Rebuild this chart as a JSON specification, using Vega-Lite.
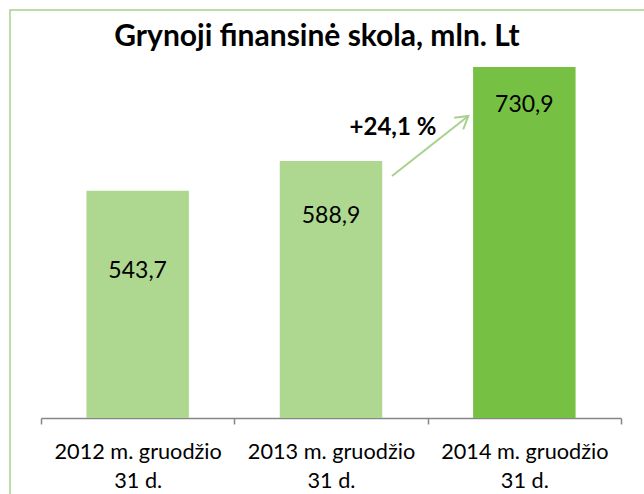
{
  "$schema": "https://vega.github.io/schema/vega-lite/v6.json",
  "width": 636,
  "height": 486,
  "autosize": {"type": "none"},
  "padding": {"left": 10, "top": 10, "right": 0, "bottom": 0},
  "background": "white",
  "title": {
    "text": "Grynoji finansinė skola, mln. Lt",
    "font": "Lato",
    "fontSize": 30,
    "fontWeight": "bold",
    "color": "black",
    "anchor": "middle",
    "frame": "group",
    "offset": -41,
    "baseline": "alphabetic",
    "dx": -11,
    "dy": 25
  },
  "config": {
    "view": {"stroke": "#a9d18e", "strokeWidth": 1.5},
    "font": "Lato",
    "locale": {"number": {"decimal": ",", "thousands": " ", "grouping": [3], "currency": ["", ""]}}
  },
  "data": {
    "values": [
      {"period": "2012 m. gruodžio 31 d.", "value": 543.7},
      {"period": "2013 m. gruodžio 31 d.", "value": 588.9},
      {"period": "2014 m. gruodžio 31 d.", "value": 730.9}
    ]
  },
  "layer": [
    {
      "mark": {"type": "bar", "width": {"band": 0.53}},
      "encoding": {
        "x": {
          "field": "period",
          "type": "nominal",
          "sort": null,
          "scale": {"range": [31, 611], "paddingInner": 0, "paddingOuter": 0},
          "axis": {
            "title": null,
            "labelAngle": 0,
            "tickBand": "extent",
            "domainColor": "#868686",
            "domainWidth": 1.5,
            "tickColor": "#868686",
            "tickWidth": 1.5,
            "tickSize": 6,
            "labelFont": "Lato",
            "labelFontSize": 21.7,
            "labelColor": "black",
            "labelLineHeight": 29,
            "labelPadding": 17,
            "labelLimit": 400,
            "labelBaseline": "top",
            "labelExpr": "datum.label ? [substring(datum.label, 0, indexof(datum.label, ' 31')), '31 d.'] : ''",
            "offset": -78
          }
        },
        "y": {
          "field": "value",
          "type": "quantitative",
          "scale": {"domain": [200, 817.2], "range": [408, 0], "zero": false, "nice": false},
          "axis": null
        },
        "y2": {"datum": 200},
        "color": {
          "field": "period",
          "type": "nominal",
          "scale": {"range": ["#aed890", "#aed890", "#76c043"]},
          "legend": null
        }
      }
    },
    {
      "transform": [{"filter": "datum.value < 550"}],
      "mark": {"type": "text", "fontSize": 23, "color": "black", "baseline": "middle", "dy": 80},
      "encoding": {
        "x": {"field": "period", "type": "nominal"},
        "y": {"field": "value", "type": "quantitative"},
        "text": {"field": "value", "type": "quantitative", "format": ".1f"}
      }
    },
    {
      "transform": [{"filter": "datum.value > 550 && datum.value < 600"}],
      "mark": {"type": "text", "fontSize": 23, "color": "black", "baseline": "middle", "dy": 55},
      "encoding": {
        "x": {"field": "period", "type": "nominal"},
        "y": {"field": "value", "type": "quantitative"},
        "text": {"field": "value", "type": "quantitative", "format": ".1f"}
      }
    },
    {
      "transform": [{"filter": "datum.value > 600"}],
      "mark": {"type": "text", "fontSize": 23, "color": "black", "baseline": "middle", "dy": 38},
      "encoding": {
        "x": {"field": "period", "type": "nominal"},
        "y": {"field": "value", "type": "quantitative"},
        "text": {"field": "value", "type": "quantitative", "format": ".1f"}
      }
    },
    {
      "data": {"values": [{"note": "+24,1 %"}]},
      "mark": {"type": "text", "fontSize": 24, "fontWeight": "bold", "color": "black", "baseline": "middle", "dx": 62},
      "encoding": {
        "x": {"datum": "2013 m. gruodžio 31 d.", "type": "nominal"},
        "y": {"datum": 638.7, "type": "quantitative"},
        "text": {"field": "note", "type": "nominal"}
      }
    },
    {
      "data": {"values": [{"note": "arrow"}]},
      "mark": {"type": "rule", "color": "#a9d18e", "strokeWidth": 2, "xOffset": 61, "x2Offset": -56},
      "encoding": {
        "x": {"datum": "2013 m. gruodžio 31 d.", "type": "nominal"},
        "x2": {"datum": "2014 m. gruodžio 31 d."},
        "y": {"datum": 566, "type": "quantitative"},
        "y2": {"datum": 656.8}
      }
    },
    {
      "data": {"values": [{"note": "arrowhead"}]},
      "mark": {
        "type": "point",
        "shape": "M-0.6,1L0,0L0.6,1",
        "filled": false,
        "color": "#a9d18e",
        "strokeWidth": 2,
        "size": 600,
        "angle": 52,
        "opacity": 1,
        "xOffset": -56
      },
      "encoding": {
        "x": {"datum": "2014 m. gruodžio 31 d.", "type": "nominal"},
        "y": {"datum": 656.8, "type": "quantitative"}
      }
    }
  ]
}
